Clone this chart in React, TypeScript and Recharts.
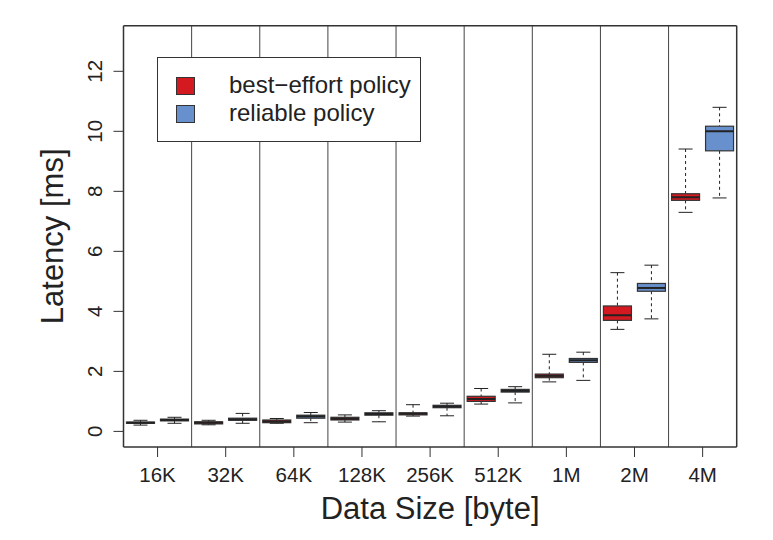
import React from "react";
import {
  ComposedChart, Bar, XAxis, YAxis, CartesianGrid, Legend, Label,
} from "recharts";

const categories = ["16K", "32K", "64K", "128K", "256K", "512K", "1M", "2M", "4M"];

// best-effort policy (min, q1, median, q3, max)
const beMin = [0.21, 0.22, 0.27, 0.31, 0.51, 0.91, 1.65, 3.40, 7.30];
const beQ1 = [0.27, 0.25, 0.29, 0.38, 0.55, 1.00, 1.79, 3.70, 7.70];
const beMed = [0.29, 0.29, 0.33, 0.42, 0.59, 1.08, 1.85, 3.87, 7.80];
const beQ3 = [0.31, 0.32, 0.38, 0.47, 0.62, 1.17, 1.91, 4.18, 7.92];
const beMax = [0.37, 0.37, 0.43, 0.55, 0.89, 1.43, 2.57, 5.29, 9.41];

// reliable policy
const reMin = [0.27, 0.27, 0.29, 0.32, 0.52, 0.95, 1.70, 3.75, 7.78];
const reQ1 = [0.35, 0.37, 0.44, 0.54, 0.79, 1.31, 2.30, 4.67, 9.35];
const reMed = [0.38, 0.40, 0.50, 0.58, 0.83, 1.35, 2.37, 4.78, 10.0];
const reQ3 = [0.41, 0.44, 0.54, 0.62, 0.87, 1.40, 2.43, 4.93, 10.17];
const reMax = [0.47, 0.60, 0.63, 0.69, 0.94, 1.49, 2.64, 5.54, 10.8];

const yTicks = [0, 2, 4, 6, 8, 10, 12];

const RED = "#D41A20";
const BLUE = "#6890CC";
const FONT = "'Liberation Sans', Arial, Helvetica, sans-serif";
const INK = "#222";

const data = categories.map((name, i) => ({
  name,
  be: [beMin[i], beMax[i]],
  beQ1: beQ1[i], beMed: beMed[i], beQ3: beQ3[i],
  re: [reMin[i], reMax[i]],
  reQ1: reQ1[i], reMed: reMed[i], reQ3: reQ3[i],
}));

// draws a box-and-whisker mark; the bar itself spans [min, max]
function makeBox(key: "be" | "re", fill: string) {
  return (props: any) => {
    const { x, y, width, height, payload } = props;
    const [lo, hi] = payload[key];
    const top = Math.min(y, y + height);
    const h = Math.abs(height);
    const ppu = h / (hi - lo);
    const yOf = (v: number) => top + (hi - v) * ppu;
    const cx = x + width / 2;
    const q1 = yOf(payload[key + "Q1"]);
    const q3 = yOf(payload[key + "Q3"]);
    const med = yOf(payload[key + "Med"]);
    const yMax = yOf(hi);
    const yMin = yOf(lo);
    const cap = width / 4;
    return (
      <g>
        <line x1={cx} x2={cx} y1={yMax} y2={q3} stroke={INK} strokeWidth={1} strokeDasharray="3 3" />
        <line x1={cx} x2={cx} y1={q1} y2={yMin} stroke={INK} strokeWidth={1} strokeDasharray="3 3" />
        <line x1={cx - cap} x2={cx + cap} y1={yMax} y2={yMax} stroke={INK} strokeWidth={1} />
        <line x1={cx - cap} x2={cx + cap} y1={yMin} y2={yMin} stroke={INK} strokeWidth={1} />
        <rect x={x} y={q3} width={width} height={Math.max(q1 - q3, 0.5)} fill={fill} stroke="#333" strokeWidth={1.2} />
        <line x1={x} x2={x + width} y1={med} y2={med} stroke="#222" strokeWidth={2} />
      </g>
    );
  };
}

// group boundaries between categories (band scale, no padding)
const separatorCoords = ({ offset }: any) =>
  categories.slice(1).map((_, i) => offset.left + (offset.width * (i + 1)) / categories.length);
const frameVertical = ({ offset }: any) => [offset.left, offset.left + offset.width];
const frameHorizontal = ({ offset }: any) => [offset.top, offset.top + offset.height];

const YTick = (props: any) => {
  const { x, y, payload } = props;
  const tx = x - 9.7;
  return (
    <text x={tx} y={y} transform={`rotate(-90, ${tx}, ${y})`} textAnchor="middle"
      fontSize={20.5} fontFamily={FONT} fill={INK}>
      {payload.value}
    </text>
  );
};

const XTick = (props: any) => {
  const { x, y, payload } = props;
  return (
    <text x={x} y={y + 22.7} textAnchor="middle" fontSize={20.5} fontFamily={FONT} fill={INK}>
      {payload.value}
    </text>
  );
};

const LegendBox = () => (
  <div style={{
    boxSizing: "border-box", width: 264, height: 85, background: "#fff",
    border: "1px solid #333", fontFamily: FONT, fontSize: 24, color: INK,
    position: "relative",
  }}>
    {[{ c: RED, t: "best\u2212effort policy", top: 19 }, { c: BLUE, t: "reliable policy", top: 47 }].map((it) => (
      <div key={it.t}>
        <div style={{
          position: "absolute", left: 18, top: it.top, width: 19, height: 18,
          background: it.c, border: "1px solid #333", boxSizing: "border-box",
        }} />
        <div style={{ position: "absolute", left: 71, top: it.top - 6, lineHeight: "28px", whiteSpace: "nowrap" }}>
          {it.t}
        </div>
      </div>
    ))}
  </div>
);

export default function App() {
  return (
    <div style={{ position: "absolute", left: 0, top: 0, width: 773, height: 540, background: "#fff" }}>
      <ComposedChart
        width={773}
        height={540}
        data={data}
        margin={{ top: 25.7, right: 36.3, left: 0, bottom: 0 }}
        barSize={28}
        barGap={6}
      >
        <CartesianGrid
          horizontal={false}
          verticalCoordinatesGenerator={separatorCoords}
          stroke="#444"
          strokeWidth={1}
        />
        <CartesianGrid
          verticalCoordinatesGenerator={frameVertical}
          horizontalCoordinatesGenerator={frameHorizontal}
          stroke="#333"
          strokeWidth={1.5}
        />
        <XAxis
          dataKey="name"
          height={93}
          tickSize={10}
          axisLine={false}
          tickLine={{ stroke: "#333" }}
          tick={<XTick />}
          interval={0}
        >
          <Label
            content={(p: any) => {
              const vb = p.viewBox;
              return (
                <text x={vb.x + vb.width / 2} y={vb.y + 72.3} textAnchor="middle"
                  fontSize={31} fontFamily={FONT} fill={INK}>
                  Data Size [byte]
                </text>
              );
            }}
          />
        </XAxis>
        <YAxis
          width={123.5}
          domain={[-0.52, 13.52]}
          ticks={yTicks}
          tickSize={10}
          axisLine={false}
          tickLine={{ stroke: "#333" }}
          tick={<YTick />}
          allowDataOverflow
        >
          <Label
            content={(p: any) => {
              const vb = p.viewBox;
              const cx = vb.x + 63.3;
              const cy = vb.y + vb.height / 2;
              return (
                <text x={cx} y={cy} transform={`rotate(-90, ${cx}, ${cy})`} textAnchor="middle"
                  fontSize={31} fontFamily={FONT} fill={INK}>
                  Latency [ms]
                </text>
              );
            }}
          />
        </YAxis>
        <Bar dataKey="be" shape={makeBox("be", RED)} isAnimationActive={false} />
        <Bar dataKey="re" shape={makeBox("re", BLUE)} isAnimationActive={false} />
        <Legend
          layout="vertical"
          align="center"
          verticalAlign="middle"
          content={() => <LegendBox />}
          wrapperStyle={{ position: "absolute", left: 157, top: 57, width: 264, height: 85 }}
        />
      </ComposedChart>
    </div>
  );
}
